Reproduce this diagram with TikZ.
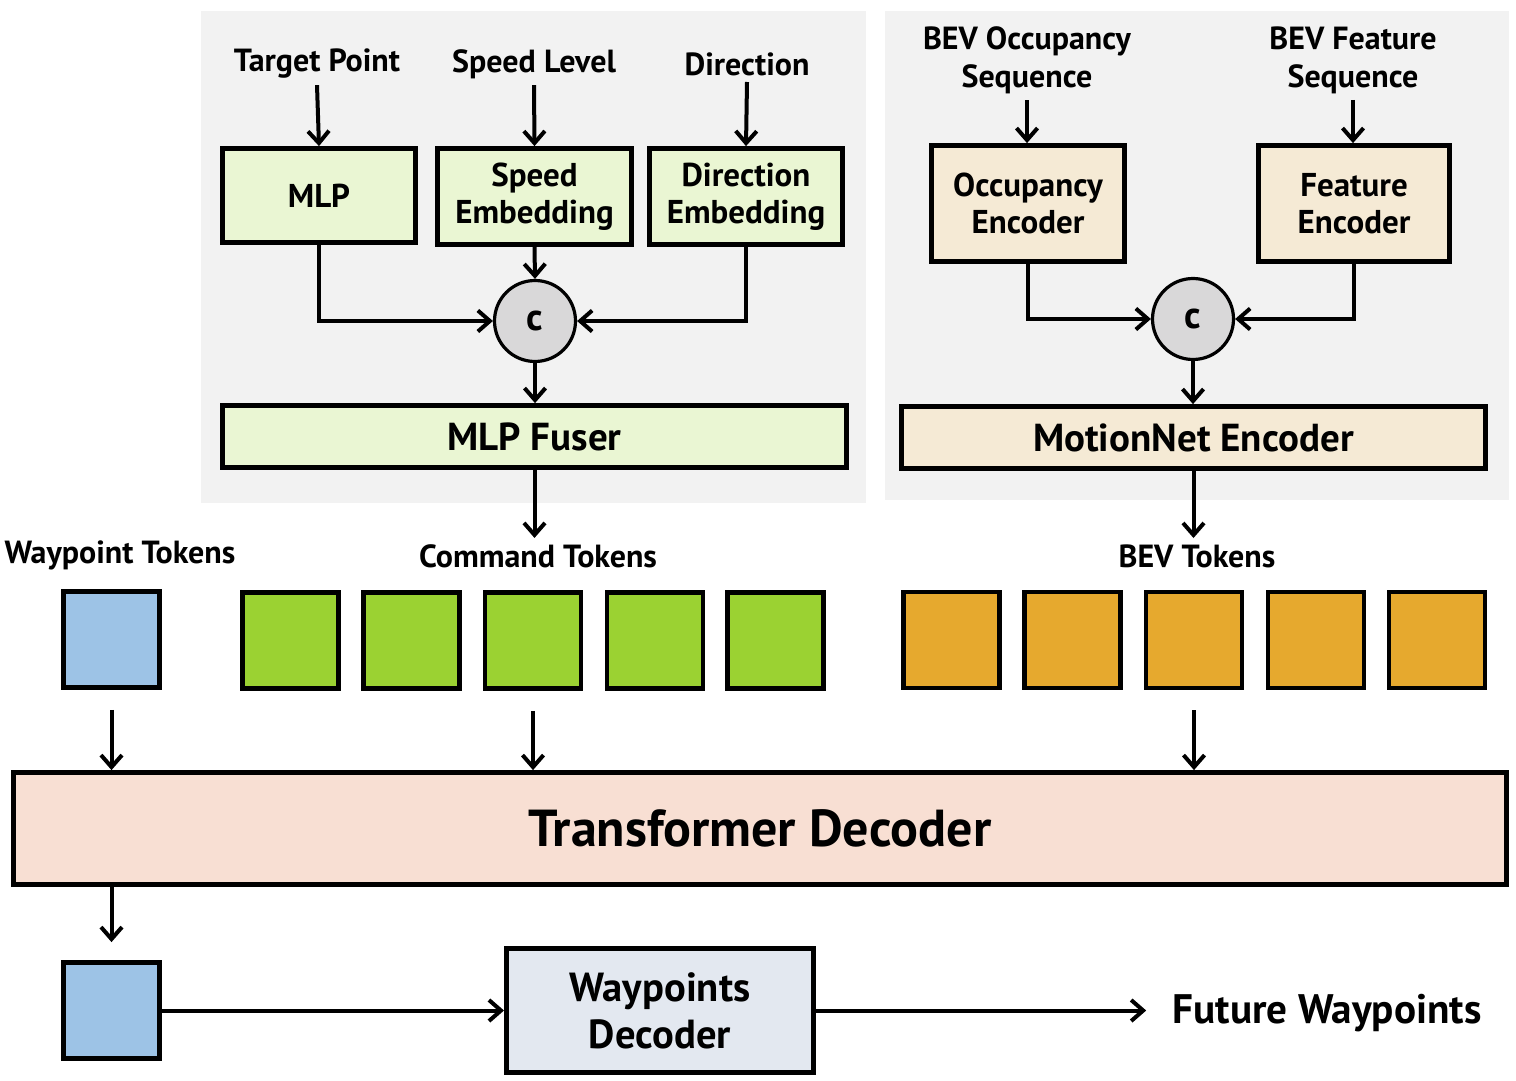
\documentclass[tikz,border=0pt]{standalone}
\usepackage{fontspec}
\setmainfont{PT Sans}
\usetikzlibrary{arrows.meta,positioning}
\definecolor{panelgray}{HTML}{F2F2F2}
\definecolor{cmdfill}{HTML}{EAF6D3}
\definecolor{bevfill}{HTML}{F5EAD5}
\definecolor{concatfill}{HTML}{D9D8D9}
\definecolor{waytoken}{HTML}{9DC3E6}
\definecolor{cmdtoken}{HTML}{9BD232}
\definecolor{bevtoken}{HTML}{E6A92E}
\definecolor{decfill}{HTML}{F8DFD3}
\definecolor{wpdecfill}{HTML}{E3E8F0}
\tikzset{
  >={Straight Barb[length=6pt,width=10.5pt]},
  flow/.style={->,line width=2pt},
  panel/.style={fill=panelgray,draw=none},
  block/.style={draw,line width=2.4pt,align=center,inner sep=2pt,font=\bfseries\fontsize{16.5}{18.5}\selectfont},
  cmdbox/.style={block,fill=cmdfill},
  bevbox/.style={block,fill=bevfill},
  concat/.style={circle,draw,line width=1.6pt,fill=concatfill,minimum size=40.5pt,inner sep=0pt,font=\bfseries\fontsize{19}{19}\selectfont},
  token/.style={draw,line width=2.4pt,minimum width=48pt,minimum height=48pt,inner sep=0pt},
  intext/.style={align=center,inner sep=3pt,font=\bfseries\fontsize{16}{19}\selectfont}
}
\begin{document}
\begin{tikzpicture}[x=0.5pt,y=-0.5pt]
  \useasboundingbox (0,0) rectangle (1516,1081);
  % Grey panels behind the two input branches.
  \fill[panel] (201,11) rectangle (866,503);
  \fill[panel] (885,11) rectangle (1509,500);

  % Command branch.
  \node[intext] (tgt) at (317,64) {Target Point};
  \node[intext] (spd) at (534,64) {Speed Level};
  \node[intext] (dir) at (747,64) {Direction};
  \node[cmdbox,minimum width=96.6pt,minimum height=47pt] (mlp) at (319,195.5) {MLP};
  \node[cmdbox,minimum width=97pt,minimum height=48pt] (spdemb) at (534.5,196.5) {Speed\\Embedding};
  \node[cmdbox,minimum width=96.6pt,minimum height=48pt] (diremb) at (746,196.5) {Direction\\Embedding};
  \node[concat] (cat1) at (535,321) {c};
  \node[cmdbox,minimum width=312pt,minimum height=31pt,font=\bfseries\fontsize{19.5}{22}\selectfont] (fuser) at (534.5,436.5) {MLP Fuser};

  % BEV branch.
  \node[intext] (occin) at (1027,60) {BEV Occupancy\\Sequence};
  \node[intext] (featin) at (1353,60) {BEV Feature\\Sequence};
  \node[bevbox,minimum width=96.6pt,minimum height=58pt] (occenc) at (1028,203.5) {Occupancy\\Encoder};
  \node[bevbox,minimum width=95.6pt,minimum height=58pt] (featenc) at (1354,203.5) {Feature\\Encoder};
  \node[concat] (cat2) at (1193,319) {c};
  \node[bevbox,minimum width=292pt,minimum height=31pt,font=\bfseries\fontsize{19.5}{22}\selectfont] (motion) at (1193.5,437.5) {MotionNet Encoder};

  % Token rows.
  \node[intext] (wplbl) at (120,555) {Waypoint Tokens};
  \node[intext] (cmdlbl) at (538,556) {Command Tokens};
  \node[intext] (bevlbl) at (1197,556) {BEV Tokens};
  \node[token,fill=waytoken] (wp) at (111.5,639.5) {};
  \foreach \i/\x in {1/290.5,2/411.5,3/533,4/655,5/775.5}
    \node[token,fill=cmdtoken] (c\i) at (\x,640.5) {};
  \foreach \i/\x in {1/951.5,2/1072.5,3/1194,4/1316,5/1437}
    \node[token,fill=bevtoken] (b\i) at (\x,640) {};

  % Decoder part.
  \node[block,fill=decfill,minimum width=746.6pt,minimum height=56pt,font=\bfseries\fontsize{26}{29}\selectfont] (tfd) at (760,828.5) {Transformer Decoder};
  \node[token,fill=waytoken] (wpout) at (111.5,1010.5) {};
  \node[block,fill=wpdecfill,minimum width=153.6pt,minimum height=62pt,font=\bfseries\fontsize{20.3}{23.5}\selectfont] (wdec) at (660,1010.5) {Waypoints\\Decoder};
  \node[inner sep=13pt,font=\bfseries\fontsize{20.6}{24}\selectfont] (fw) at (1327,1013) {Future Waypoints};

  % Connectors.
  \draw[flow] (tgt.south) -- (mlp.north);
  \draw[flow] (spd.south) -- (spdemb.north);
  \draw[flow] (dir.south) -- (diremb.north);
  \draw[flow] (mlp.south) |- (cat1.west);
  \draw[flow] (spdemb.south) -- (cat1.north);
  \draw[flow] (diremb.south) |- (cat1.east);
  \draw[flow] (cat1.south) -- (cat1.south |- fuser.north);
  \draw[flow] (fuser.south) -- (fuser.south |- cmdlbl.north);
  \draw[flow] (occin.south) -- (occin.south |- occenc.north);
  \draw[flow] (featin.south) -- (featin.south |- featenc.north);
  \draw[flow] (occenc.south) |- (cat2.west);
  \draw[flow] (featenc.south) |- (cat2.east);
  \draw[flow] (cat2.south) -- (cat2.south |- motion.north);
  \draw[flow] (motion.south) -- (motion.south |- bevlbl.north);
  \draw[flow] ([yshift=-10pt]wp.south) -- (wp.south |- tfd.north);
  \draw[flow] ([yshift=-10pt]c3.south) -- (c3.south |- tfd.north);
  \draw[flow] ([yshift=-10pt]b3.south) -- (b3.south |- tfd.north);
  \draw[flow] (tfd.south -| wpout.north) -- ([yshift=9pt]wpout.north);
  \draw[flow] (wpout.east) -- (wdec.west);
  \draw[flow] (wdec.east) -- (wdec.east -| fw.west);
\end{tikzpicture}
\end{document}
